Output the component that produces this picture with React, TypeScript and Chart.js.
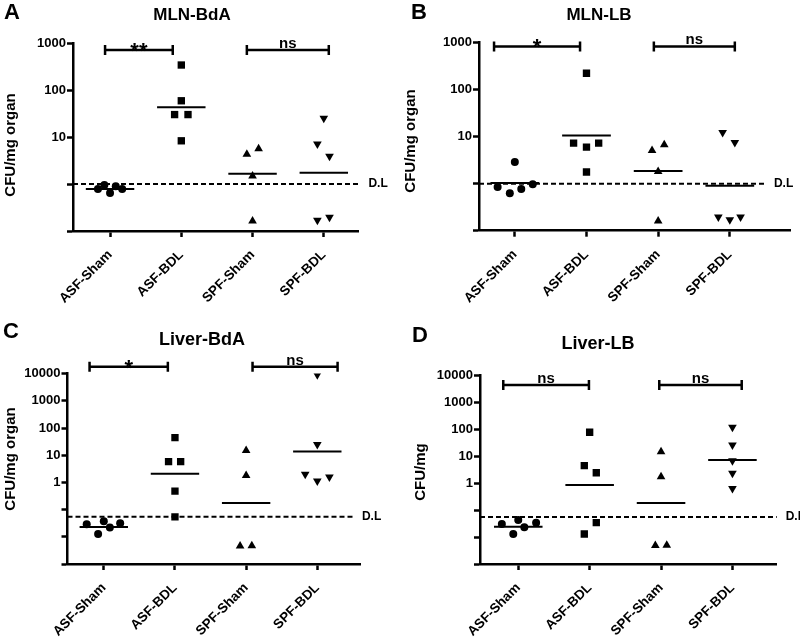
import React, { useEffect, useRef } from "react";
import { Chart, registerables } from "chart.js";

Chart.register(...registerables);

const FONT = '"Liberation Sans", Arial, Helvetica, sans-serif';

// Categories (x axis)
const categories = ["ASF-Sham", "ASF-BDL", "SPF-Sham", "SPF-BDL"];

// ---------- Panel A: MLN-BdA (CFU/mg organ) ----------
const aAsfSham = [0.78, 0.95, 0.64, 0.9, 0.78];
const aAsfBdl = [340, 59, 30, 30, 8.3];
const aSpfSham = [4.3, 5.6, 1.48, 0.163];
const aSpfBdl = [25, 7.1, 3.9, 0.17, 0.196];
const aJitter = [[-0.17, -0.08, 0, 0.08, 0.17], [0, 0, -0.094, 0.094, 0], [-0.08, 0.085, 0, 0], [0, -0.09, 0.08, -0.09, 0.08]];
const aMeans = [0.78, 43, 1.65, 1.74];

// ---------- Panel B: MLN-LB ----------
const bAsfSham = [0.85, 0.63, 2.9, 0.77, 0.97];
const bAsfBdl = [224, 7.3, 6, 7.3, 1.77];
const bSpfSham = [5.1, 6.7, 1.82, 0.16];
const bSpfBdl = [12.3, 7.5, 0.196, 0.17, 0.196];
const bJitter = [[-0.24, -0.07, 0, 0.09, 0.25], [0, -0.18, 0, 0.17, 0], [-0.085, 0.085, 0, 0], [-0.1, 0.07, -0.16, 0, 0.15]];
const bMeans = [1.03, 10.6, 1.87, 0.91];

// ---------- Panel C: Liver-BdA ----------
const cAsfSham = [0.029, 0.037, 0.0126, 0.022, 0.0316];
const cAsfBdl = [44.5, 5.8, 5.8, 0.48, 0.054];
const cSpfSham = [15, 1.8, 0.0046, 0.0047];
const cSpfBdl = [9100, 25, 2, 1.12, 1.58];
const cJitter = [[-0.24, 0, -0.08, 0.085, 0.23], [0, -0.09, 0.08, 0, 0], [0, 0, -0.085, 0.08], [0, 0, -0.17, 0, 0.17]];
const cMeans = [0.023, 2.1, 0.175, 13.8];

// ---------- Panel D: Liver-LB ----------
const dAsfSham = [0.03, 0.0129, 0.043, 0.023, 0.034];
const dAsfBdl = [76, 4.4, 2.4, 0.034, 0.0129];
const dSpfSham = [14.5, 1.7, 0.0048, 0.005];
const dSpfBdl = [115, 25.7, 6.7, 2.3, 0.63];
const dJitter = [[-0.23, -0.07, 0, 0.085, 0.25], [0, -0.075, 0.093, 0.093, -0.075], [0, 0, -0.08, 0.08], [0, 0, 0, 0, 0]];
const dMeans = [0.024, 0.85, 0.18, 7.1];

// Y tick values
const ticksSmall = [0.1, 1, 10, 100, 1000];
const ticksLarge = [0.001, 0.01, 0.1, 1, 10, 100, 1000, 10000];

// Detection limits
const dlMLN = 1;
const dlLiver = 0.055;

const pointStyles = ["circle", "rect", "triangle", "triangle"];
const pointRotations = [0, 0, 0, 180];
const pointRadii = [4, 5.2, 5, 5];

type Bracket = { x1: number; x2: number; y: number; text: string };
type Panel = {
  letter: string;
  title: string;
  yTitle: string;
  groups: number[][];
  jitter: number[][];
  means: number[];
  yMin: number;
  yMax: number;
  yTicks: number[];
  labelFrom: number;
  dl: number;
  dlEnd: number;
  brackets: Bracket[];
  xMin: number;
  xMax: number;
  area: { left: number; right: number; top: number; bottom: number };
  titleXY: [number, number];
  titleSize: number;
  letterXY: [number, number];
  yTitleXY: [number, number];
  pos: { left: number; top: number; w: number; h: number };
};

const panels: Panel[] = [
  {
    letter: "A", title: "MLN-BdA", yTitle: "CFU/mg organ",
    groups: [aAsfSham, aAsfBdl, aSpfSham, aSpfBdl], jitter: aJitter, means: aMeans,
    yMin: 0.1, yMax: 1000, yTicks: ticksSmall, labelFrom: 10, dl: dlMLN, dlEnd: 4.5,
    brackets: [{ x1: 0.93, x2: 1.88, y: 708, text: "**" }, { x1: 2.92, x2: 4.07, y: 708, text: "ns" }],
    xMin: 0.48, xMax: 4.48,
    area: { left: 73, right: 358, top: 43, bottom: 231 },
    titleXY: [192, 15], titleSize: 17, letterXY: [12, 13], yTitleXY: [15, 145],
    pos: { left: 0, top: 0, w: 400, h: 320 },
  },
  {
    letter: "B", title: "MLN-LB", yTitle: "CFU/mg organ",
    groups: [bAsfSham, bAsfBdl, bSpfSham, bSpfBdl], jitter: bJitter, means: bMeans,
    yMin: 0.1, yMax: 1000, yTicks: ticksSmall, labelFrom: 10, dl: dlMLN, dlEnd: 4.49,
    brackets: [{ x1: 0.71, x2: 1.91, y: 832, text: "*" }, { x1: 2.94, x2: 4.07, y: 832, text: "ns" }],
    xMin: 0.5, xMax: 4.84,
    area: { left: 79, right: 390, top: 42.7, bottom: 230.7 },
    titleXY: [199, 15], titleSize: 17, letterXY: [19, 13], yTitleXY: [15, 141],
    pos: { left: 400, top: 0, w: 400, h: 320 },
  },
  {
    letter: "C", title: "Liver-BdA", yTitle: "CFU/mg organ",
    groups: [cAsfSham, cAsfBdl, cSpfSham, cSpfBdl], jitter: cJitter, means: cMeans,
    yMin: 0.001, yMax: 10000, yTicks: ticksLarge, labelFrom: 1, dl: dlLiver, dlEnd: 4.5,
    brackets: [{ x1: 0.8, x2: 1.9, y: 17800, text: "*" }, { x1: 3.09, x2: 4.285, y: 17800, text: "ns" }],
    xMin: 0.49, xMax: 4.6,
    area: { left: 67.5, right: 360, top: 53.6, bottom: 244 },
    titleXY: [202, 20], titleSize: 18, letterXY: [11, 12], yTitleXY: [15, 139],
    pos: { left: 0, top: 320, w: 400, h: 319 },
  },
  {
    letter: "D", title: "Liver-LB", yTitle: "CFU/mg",
    groups: [dAsfSham, dAsfBdl, dSpfSham, dSpfBdl], jitter: dJitter, means: dMeans,
    yMin: 0.001, yMax: 10000, yTicks: ticksLarge, labelFrom: 1, dl: dlLiver, dlEnd: 4.62,
    brackets: [{ x1: 0.79, x2: 1.99, y: 4260, text: "ns" }, { x1: 2.975, x2: 4.13, y: 4260, text: "ns" }],
    xMin: 0.464, xMax: 4.62,
    area: { left: 80, right: 376.7, top: 55, bottom: 244 },
    titleXY: [198, 24], titleSize: 18, letterXY: [20, 16], yTitleXY: [25, 152],
    pos: { left: 400, top: 320, w: 400, h: 319 },
  },
];

function makeDecor(p: Panel) {
  return {
    id: "decor" + p.letter,
    beforeDatasetsDraw(chart: any) {
      const { ctx, chartArea, scales } = chart;
      const x = scales.x, y = scales.y;
      const dy = y.getPixelForValue(p.dl);
      const xe = x.getPixelForValue(p.dlEnd);
      ctx.save();
      ctx.strokeStyle = "#000";
      ctx.lineWidth = 2;
      ctx.setLineDash([5, 3]);
      ctx.beginPath();
      ctx.moveTo(chartArea.left, dy);
      ctx.lineTo(xe, dy);
      ctx.stroke();
      ctx.setLineDash([]);
      ctx.fillStyle = "#000";
      ctx.font = `bold 12px ${FONT}`;
      ctx.textAlign = "left";
      ctx.textBaseline = "middle";
      ctx.fillText("D.L", xe + 9, dy);
      ctx.restore();
    },
    afterDatasetsDraw(chart: any) {
      const { ctx, scales } = chart;
      const x = scales.x, y = scales.y;
      ctx.save();
      ctx.strokeStyle = "#000";
      ctx.fillStyle = "#000";
      // mean lines
      ctx.lineWidth = 2;
      p.means.forEach((m, i) => {
        const py = y.getPixelForValue(m);
        ctx.beginPath();
        ctx.moveTo(x.getPixelForValue(i + 1 - 0.34), py);
        ctx.lineTo(x.getPixelForValue(i + 1 + 0.34), py);
        ctx.stroke();
      });
      // brackets
      ctx.lineWidth = 2.5;
      p.brackets.forEach((b) => {
        const x1 = x.getPixelForValue(b.x1);
        const x2 = x.getPixelForValue(b.x2);
        const by = y.getPixelForValue(b.y);
        ctx.beginPath();
        ctx.moveTo(x1, by);
        ctx.lineTo(x2, by);
        ctx.moveTo(x1, by - 5);
        ctx.lineTo(x1, by + 5);
        ctx.moveTo(x2, by - 5);
        ctx.lineTo(x2, by + 5);
        ctx.stroke();
        ctx.textAlign = "center";
        ctx.textBaseline = "alphabetic";
        if (b.text.startsWith("*")) {
          ctx.font = `bold 22px ${FONT}`;
          ctx.fillText(b.text, (x1 + x2) / 2, by + 8);
        } else {
          ctx.font = `bold 15px ${FONT}`;
          ctx.fillText(b.text, (x1 + x2) / 2, by - 2);
        }
      });
      ctx.restore();
    },
    afterDraw(chart: any) {
      const { ctx } = chart;
      ctx.save();
      ctx.fillStyle = "#000";
      ctx.textAlign = "center";
      ctx.textBaseline = "middle";
      ctx.font = `bold ${p.titleSize}px ${FONT}`;
      ctx.fillText(p.title, p.titleXY[0], p.titleXY[1]);
      ctx.font = `bold 22px ${FONT}`;
      ctx.fillText(p.letter, p.letterXY[0], p.letterXY[1]);
      ctx.translate(p.yTitleXY[0], p.yTitleXY[1]);
      ctx.rotate(-Math.PI / 2);
      ctx.textBaseline = "alphabetic";
      ctx.font = `bold 15px ${FONT}`;
      ctx.fillText(p.yTitle, 0, 0);
      ctx.restore();
    },
  };
}

function PanelChart({ p }: { p: Panel }) {
  const ref = useRef<HTMLCanvasElement | null>(null);
  useEffect(() => {
    const canvas = ref.current;
    if (!canvas) return;
    const datasets = p.groups.map((vals, gi) => ({
      label: categories[gi],
      data: vals.map((v, i) => ({ x: gi + 1 + p.jitter[gi][i], y: v })),
      pointStyle: pointStyles[gi] as any,
      rotation: pointRotations[gi],
      pointRadius: pointRadii[gi],
      backgroundColor: "#000",
      borderColor: "#000",
      borderWidth: 0,
      showLine: false,
    }));
    const chart = new Chart(canvas, {
      type: "scatter",
      data: { datasets },
      options: {
        animation: false,
        responsive: false,
        devicePixelRatio: 1,
        layout: {
          padding: { left: 0, top: p.area.top, right: p.pos.w - p.area.right, bottom: 0 },
        },
        plugins: { legend: { display: false }, title: { display: false }, tooltip: { enabled: false } },
        scales: {
          x: {
            type: "linear",
            min: p.xMin,
            max: p.xMax,
            afterBuildTicks: (s: any) => {
              s.ticks = [1, 2, 3, 4].map((v) => ({ value: v }));
            },
            afterFit: (s: any) => {
              s.height = p.pos.h - p.area.bottom;
            },
            ticks: {
              autoSkip: false,
              minRotation: 45,
              maxRotation: 45,
              padding: 10,
              color: "#000",
              font: { family: FONT, size: 13.5, weight: "bold" },
              callback: (v: any) => categories[Math.round(Number(v)) - 1] ?? "",
            },
            grid: { display: true, drawOnChartArea: false, drawTicks: true, tickLength: 6, tickColor: "#000", tickWidth: 2.5, color: "#000" },
            border: { display: true, color: "#000", width: 2.5 },
          },
          y: {
            type: "logarithmic",
            min: p.yMin,
            max: p.yMax,
            afterBuildTicks: (s: any) => {
              s.ticks = p.yTicks.map((v) => ({ value: v }));
            },
            afterFit: (s: any) => {
              s.width = p.area.left;
            },
            ticks: {
              autoSkip: false,
              padding: 1,
              color: "#000",
              font: { family: FONT, size: 13, weight: "bold" },
              callback: (v: any) => (Number(v) >= p.labelFrom ? String(Math.round(Number(v))) : ""),
            },
            grid: { display: true, drawOnChartArea: false, drawTicks: true, tickLength: 6, tickColor: "#000", tickWidth: 2.5, color: "#000" },
            border: { display: true, color: "#000", width: 2.5 },
          },
        },
      } as any,
      plugins: [makeDecor(p)],
    });
    return () => chart.destroy();
  }, [p]);
  return (
    <canvas
      ref={ref}
      width={p.pos.w}
      height={p.pos.h}
      style={{ position: "absolute", left: p.pos.left, top: p.pos.top, width: p.pos.w, height: p.pos.h }}
    />
  );
}

export default function App() {
  return (
    <div style={{ position: "absolute", left: 0, top: 0, width: 800, height: 639, background: "#fff", overflow: "hidden" }}>
      {panels.map((p) => (
        <PanelChart key={p.letter} p={p} />
      ))}
    </div>
  );
}
